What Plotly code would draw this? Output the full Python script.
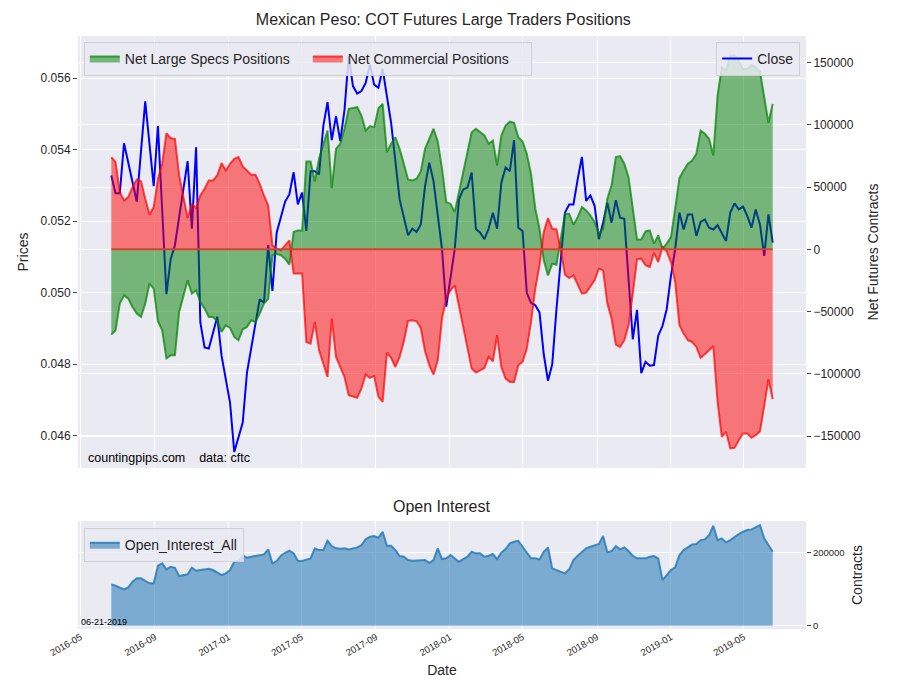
import numpy as np
import pandas as pd
import plotly.graph_objects as go

# weekly COT report dates (Tuesdays)
start = pd.Timestamp("2016-06-21")
n_weeks = 157
report_dates = pd.date_range(start, periods=n_weeks, freq="7D")

net_large_specs = [
    -68500, -65000, -43600, -36900, -39600, -46300, -51600, -54300, -43600, -27500,
    -31600, -57800, -65000, -87700, -85100, -85100, -50300, -36900, -24900, -35600,
    -32900, -42300, -47600, -54300, -54300, -57800, -66400, -61000, -63100, -70400,
    -73000, -64200, -62300, -57000, -58300, -51600, -43600, -40000, -4800, -3500,
    -4800, -7500, -12300, 13900, 15200, 15200, 70600, 70600, 54600, 72800,
    83500, 95500, 49200, 80800, 84800, 96900, 112900, 113400, 114200, 107500,
    95500, 99000, 98200, 113400, 116900, 78100, 84800, 90100, 80800, 68800,
    56200, 55400, 56700, 62600, 80800, 88800, 96900, 86700, 64800, 38000,
    36700, 29900, 46000, 62000, 80800, 94100, 96900, 94100, 91500, 84800,
    87500, 67400, 91500, 99500, 102700, 101700, 90100, 86700, 76800, 60700,
    32700, 16600, -8800, -20900, -11500, -12300, 8000, 28700, 28700, 19800,
    25900, 34000, 31300, 27300, 21900, 12600, 16600, 40700, 51400, 74100,
    74900, 68800, 58000, 32700, 8000, 8000, 14400, 15200, 4600, 11200,
    600, 4600, 9900, 32700, 57200, 63400, 68800, 71400, 76800, 95500,
    92900, 88800, 75400, 123600, 146300, 143700, 155700, 155700, 150900, 145000,
    145000, 148200, 146300, 142900, 123600, 101700, 116900,
]

net_commercial = [
    74100, 70100, 46000, 39300, 42000, 50000, 56200, 54800, 40700, 28100,
    34000, 56700, 68800, 93300, 89300, 88800, 59400, 40700, 25100, 36700,
    33100, 43300, 48700, 55400, 55400, 59400, 69300, 63400, 68800, 72800,
    74100, 66600, 63400, 60000, 60000, 52700, 43300, 35300, 3200, 600,
    -800, 3200, 7200, -19500, -19500, -19500, -74400, -75700, -58300, -81100,
    -91700, -102500, -55600, -86400, -94500, -102500, -117200, -118500, -119300, -111800,
    -100600, -103300, -101700, -118500, -122500, -82900, -87200, -94500, -86400, -73800,
    -57500, -57000, -57800, -63100, -81900, -93100, -100600, -89100, -55600, -39600,
    -32900, -28900, -44900, -62300, -78400, -95800, -99000, -97100, -95300, -86400,
    -89900, -69000, -94500, -103800, -106500, -106500, -93100, -90400, -79700, -58300,
    -31600, -12800, 13900, 25100, 16600, 16000, 0, -20300, -23000, -20900,
    -28900, -35600, -34800, -30300, -24900, -15500, -16900, -43600, -55600, -76500,
    -78400, -73000, -61000, -35600, -8000, -7500, -12800, -14200, -2700, -10200,
    1800, -1600, -10200, -26200, -61000, -67700, -73000, -74400, -78400, -87200,
    -84500, -81100, -77600, -122500, -150600, -146600, -159900, -159500, -153300, -147900,
    -147900, -151400, -149300, -146100, -125800, -104300, -120400,
]

close_week = [
    0, 1, 2, 3, 6, 8, 10, 11, 13, 14, 15, 18, 19, 20, 21, 22, 23, 25, 26, 28,
    29, 31, 32, 34, 35, 36, 37, 38, 39, 41, 42, 43, 44, 45, 46, 47, 48, 49, 50, 51,
    52, 53, 54, 55, 56, 57, 58, 59, 60, 61, 62, 63, 64, 65, 66, 68, 70, 71, 72, 73,
    74, 75, 76, 78, 79, 81, 82, 83, 84, 85, 86, 87, 88, 89, 90, 91, 92, 93, 94, 95,
    96, 97, 98, 99, 100, 101, 102, 103, 104, 105, 107, 108, 109, 110, 111, 112, 113, 114, 115, 116,
    117, 118, 119, 120, 121, 123, 124, 125, 126, 127, 128, 129, 130, 131, 132, 133, 134, 135, 136, 137,
    138, 139, 140, 141, 142, 143, 144, 145, 146, 147, 148, 149, 150, 151, 152, 153, 154, 155, 156,
]
close_price = [
    0.05328, 0.05278, 0.05278, 0.05418, 0.05255, 0.05535, 0.05298, 0.05466, 0.04996, 0.05094,
    0.05133, 0.05368, 0.05179, 0.05407, 0.04917, 0.04847, 0.04844, 0.04933, 0.04824, 0.04693,
    0.04555, 0.04637, 0.04777, 0.04907, 0.04982, 0.04972, 0.05133, 0.05005, 0.05168, 0.05255,
    0.05275, 0.05337, 0.05247, 0.05280, 0.05173, 0.05340, 0.05340, 0.05331, 0.05466, 0.05533,
    0.05427, 0.05494, 0.05424, 0.05511, 0.05662, 0.05578, 0.05557, 0.05564, 0.05587, 0.05638,
    0.05582, 0.05573, 0.05626, 0.05550, 0.05475, 0.05261, 0.05161, 0.05179, 0.05170, 0.05191,
    0.05298, 0.05364, 0.05312, 0.05122, 0.04961, 0.05122, 0.05261, 0.05289, 0.05294, 0.05336,
    0.05178, 0.05168, 0.05150, 0.05179, 0.05224, 0.05179, 0.05308, 0.05350, 0.05340, 0.05427,
    0.05182, 0.05173, 0.05000, 0.04972, 0.04965, 0.04945, 0.04828, 0.04754, 0.04800, 0.04954,
    0.05224, 0.05247, 0.05247, 0.05317, 0.05380, 0.05257, 0.05272, 0.05243, 0.05150, 0.05196,
    0.05252, 0.05196, 0.05259, 0.05210, 0.05207, 0.04870, 0.04952, 0.04775, 0.04807, 0.04796,
    0.04798, 0.04880, 0.04907, 0.04954, 0.05047, 0.05122, 0.05224, 0.05177, 0.05219, 0.05219,
    0.05159, 0.05198, 0.05205, 0.05182, 0.05177, 0.05189, 0.05168, 0.05145, 0.05224, 0.05250,
    0.05233, 0.05241, 0.05215, 0.05182, 0.05233, 0.05191, 0.05103, 0.05219, 0.05140,
]

oi_week = [
    0, 1, 3, 4, 5, 6, 7, 8, 9, 10, 11, 12, 13, 14, 15, 16, 17, 18, 19, 20,
    21, 22, 23, 24, 26, 27, 28, 29, 30, 31, 32, 33, 34, 35, 36, 37, 38, 39, 40, 41,
    42, 43, 44, 45, 46, 47, 48, 49, 50, 51, 52, 53, 54, 55, 56, 57, 58, 59, 60, 61,
    62, 63, 64, 65, 66, 67, 68, 69, 70, 71, 72, 74, 75, 76, 77, 78, 79, 80, 82, 83,
    84, 85, 86, 87, 88, 89, 90, 91, 92, 93, 94, 95, 96, 97, 99, 100, 101, 102, 103, 104,
    105, 106, 107, 108, 109, 110, 111, 112, 113, 114, 115, 116, 117, 118, 119, 120, 121, 122, 123, 124,
    125, 126, 127, 128, 129, 130, 131, 132, 133, 134, 135, 136, 137, 138, 139, 140, 141, 142, 143, 144,
    145, 146, 147, 148, 149, 150, 151, 152, 153, 154, 155, 156,
]
open_interest = [
    113400, 109600, 99700, 105200, 120600, 129900, 129900, 123300, 116200, 116200,
    164400, 171000, 154500, 161700, 158900, 136200, 138900, 140800, 158900, 150700,
    152600, 155400, 156200, 152600, 138900, 143600, 152600, 175400, 178100, 192900,
    186300, 189100, 191000, 193700, 195600, 209300, 171000, 177300, 191800, 200000,
    205500, 198400, 178100, 177300, 180000, 184700, 212100, 207400, 207400, 232900,
    218400, 212100, 211000, 212100, 209300, 212100, 214800, 221100, 236700, 243900,
    245800, 241100, 257600, 219200, 219200, 207400, 191000, 189100, 180000, 178100,
    178100, 180000, 172600, 180000, 212100, 182800, 184700, 193700, 175400, 182800,
    189100, 202800, 198400, 198400, 189100, 191800, 196500, 182800, 200000, 210200,
    225800, 230200, 232900, 216500, 184700, 184700, 181900, 202800, 214800, 157300,
    152600, 148000, 143600, 154500, 180000, 191800, 202800, 212100, 216500, 221100,
    223900, 245800, 201100, 204700, 218400, 209300, 214800, 204700, 191800, 184700,
    184700, 184700, 189100, 191000, 184700, 125200, 138900, 152600, 160000, 193700,
    207400, 214800, 223000, 223900, 234800, 236700, 248500, 274000, 234800, 239500,
    228500, 234800, 243900, 251300, 257600, 262200, 264100, 269600, 275900, 239500,
    221100, 202800,
]

close_dates = start + pd.to_timedelta(np.array(close_week) * 7, unit="D")
oi_dates = start + pd.to_timedelta(np.array(oi_week) * 7, unit="D")

FONT = "Liberation Sans, Arial, sans-serif"
TXT = "#262626"
BG = "#EAEAF2"

fig = go.Figure()

fig.add_trace(go.Scatter(
    x=close_dates, y=close_price, name="Close", mode="lines",
    line=dict(color="blue", width=2), xaxis="x", yaxis="y", legend="legend2",
))
fig.add_trace(go.Scatter(
    x=report_dates, y=net_large_specs, name="Net Large Specs Positions", mode="lines",
    line=dict(color="rgba(0,128,0,0.7)", width=2), fill="tozeroy",
    fillcolor="rgba(0,128,0,0.5)", xaxis="x", yaxis="y2", legend="legend",
))
fig.add_trace(go.Scatter(
    x=report_dates, y=net_commercial, name="Net Commercial Positions", mode="lines",
    line=dict(color="rgba(255,0,0,0.7)", width=2), fill="tozeroy",
    fillcolor="rgba(255,0,0,0.5)", xaxis="x", yaxis="y2", legend="legend",
))
# edge of the two fills along the zero baseline
fig.add_trace(go.Scatter(
    x=report_dates, y=np.zeros(len(report_dates)), mode="lines", showlegend=False,
    hoverinfo="skip", line=dict(color="rgba(212,66,40,0.95)", width=2),
    xaxis="x", yaxis="y2",
))
fig.add_trace(go.Scatter(
    x=oi_dates, y=open_interest, name="Open_Interest_All", mode="lines",
    line=dict(color="rgba(31,119,180,0.8)", width=2), fill="tozeroy",
    fillcolor="rgba(31,119,180,0.55)", xaxis="x2", yaxis="y3", legend="legend3",
))

xrange = ["2016-04-27", "2019-08-12"]
grid = dict(showgrid=True, gridcolor="white", gridwidth=1, zeroline=False, showline=False,
            automargin=False)
legend_style = dict(bgcolor="rgba(234,234,242,0.85)", bordercolor="#cfcfd8", borderwidth=1,
                    font=dict(family=FONT, size=14, color=TXT))

# page body adds 8px around the figure, so the figure is 892x692
fig.update_layout(
    width=892, height=692,
    margin=dict(l=70, r=94, t=28, b=71),
    paper_bgcolor="white", plot_bgcolor=BG,
    font=dict(family=FONT, color=TXT),
    title=dict(text="Mexican Peso: COT Futures Large Traders Positions",
               x=0.488, xanchor="center", y=0.983, yanchor="middle",
               font=dict(size=16, color=TXT), automargin=False),
    xaxis=dict(domain=[0, 1], anchor="y", range=xrange, matches="x2", showticklabels=False,
               dtick="M4", tick0="2016-05-01", **grid),
    yaxis=dict(domain=[0.2715, 1], range=[0.0451, 0.05718], tick0=0.046, dtick=0.002,
               tickformat=".3f", ticks="outside", ticklen=4, tickcolor="#444",
               tickfont=dict(size=12), title=dict(text="Prices", font=dict(size=14), standoff=8),
               **grid),
    yaxis2=dict(overlaying="y", side="right", anchor="x", range=[-175680, 171430],
                tick0=0, dtick=50000, tickformat="d", ticks="outside", ticklen=4, tickcolor="#444",
                tickfont=dict(size=12),
                title=dict(text="Net Futures Contracts", font=dict(size=14), standoff=8),
                **grid),
    xaxis2=dict(domain=[0, 1], anchor="y3", range=xrange, dtick="M4", tick0="2016-05-01",
                tickformat="%Y-%m", tickangle=-30, tickfont=dict(size=9.5),
                title=dict(text="Date", font=dict(size=14), standoff=8), **grid),
    yaxis3=dict(domain=[0, 0.182], anchor="x2", side="right", range=[-9000, 286850],
                tickvals=[0, 200000], tickformat="d", ticks="outside", ticklen=4, tickcolor="#444",
                tickfont=dict(size=9.5), title=dict(text="Contracts", font=dict(size=14), standoff=8),
                **grid),
    legend=dict(x=0.008, y=0.99, xanchor="left", yanchor="top", orientation="h",
                traceorder="normal", entrywidth=178, **legend_style),
    legend2=dict(x=0.992, y=0.99, xanchor="right", yanchor="top", **legend_style),
    legend3=dict(x=0.008, y=0.17, xanchor="left", yanchor="top", **legend_style),
    annotations=[
        dict(text="Open Interest", xref="paper", yref="paper", x=0.5, y=0.207,
             xanchor="center", yanchor="middle", showarrow=False,
             font=dict(size=16, color=TXT)),
        dict(text="countingpips.com\u00a0\u00a0\u00a0\u00a0data: cftc", xref="paper", yref="paper",
             x=0.011, y=0.288, xanchor="left", yanchor="middle", showarrow=False,
             font=dict(size=12.5, color="black")),
        dict(text="06-21-2019", xref="paper", yref="paper", x=0.002, y=0.012,
             xanchor="left", yanchor="middle", showarrow=False,
             font=dict(size=9, color="black")),
    ],
)

fig.write_html("out.html")
